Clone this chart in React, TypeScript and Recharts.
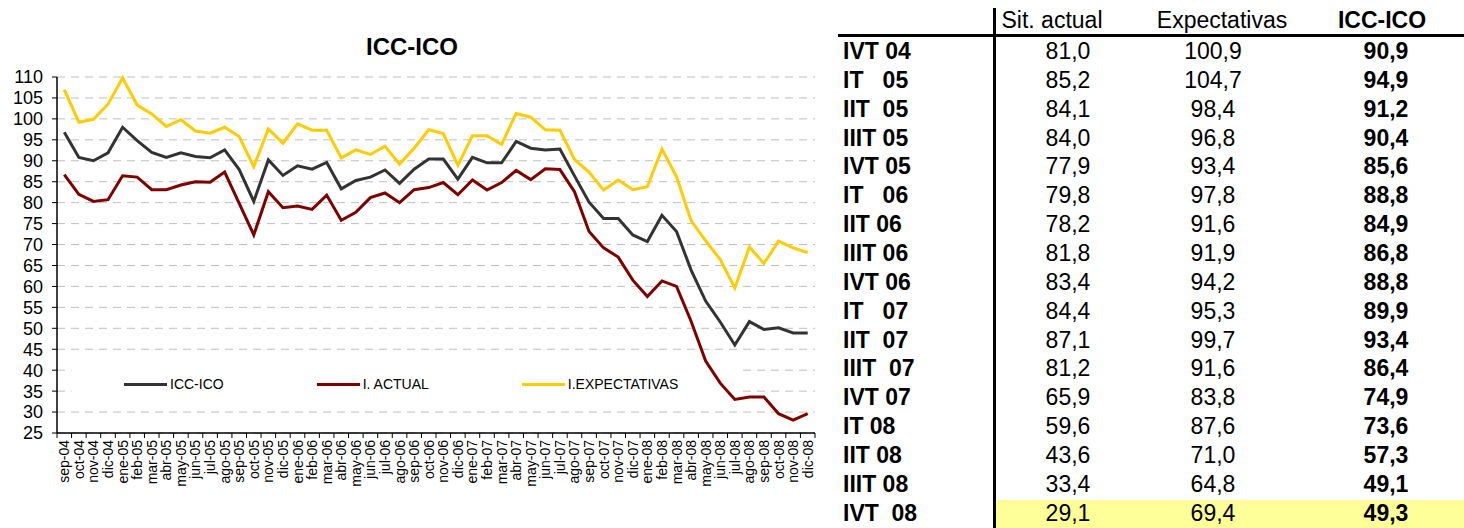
import React from "react"
import { LineChart, Line, XAxis, YAxis, CartesianGrid, Legend, ReferenceArea } from "recharts"

const months = [
  "sep-04", "oct-04", "nov-04", "dic-04",
  "ene-05", "feb-05", "mar-05", "abr-05", "may-05", "jun-05", "jul-05", "ago-05", "sep-05", "oct-05", "nov-05", "dic-05",
  "ene-06", "feb-06", "mar-06", "abr-06", "may-06", "jun-06", "jul-06", "ago-06", "sep-06", "oct-06", "nov-06", "dic-06",
  "ene-07", "feb-07", "mar-07", "abr-07", "may-07", "jun-07", "jul-07", "ago-07", "sep-07", "oct-07", "nov-07", "dic-07",
  "ene-08", "feb-08", "mar-08", "abr-08", "may-08", "jun-08", "jul-08", "ago-08", "sep-08", "oct-08", "nov-08", "dic-08",
]

const iccIco = [
  96.8, 90.8, 90.0, 91.9,
  98.0, 94.8, 92.0, 90.8, 91.9, 91.0, 90.7, 92.6, 87.9, 80.3, 90.2, 86.5,
  88.8, 88.0, 89.6, 83.3, 85.3, 86.1, 87.8, 84.6, 88.0, 90.4, 90.4, 85.6,
  90.8, 89.5, 89.5, 94.6, 93.0, 92.6, 92.8, 86.4, 80.1, 76.2, 76.2, 72.3,
  70.7, 77.0, 73.1, 63.9, 56.5, 51.5, 46.0, 51.6, 49.7, 50.1, 48.9, 48.9,
]

const actual = [
  86.7, 82.0, 80.3, 80.7,
  86.4, 86.1, 83.1, 83.1, 84.2, 85.0, 84.9, 87.3, 79.8, 72.3, 82.6, 78.8,
  79.2, 78.4, 81.8, 75.8, 77.7, 81.2, 82.3, 80.0, 83.1, 83.6, 84.8, 81.9,
  85.4, 83.0, 84.8, 87.7, 85.5, 88.1, 87.9, 82.6, 73.1, 69.2, 67.0, 61.5,
  57.6, 61.3, 60.0, 51.7, 42.2, 36.9, 33.0, 33.6, 33.6, 29.6, 28.1, 29.6,
]

const expectativas = [
  107.0, 99.2, 99.9, 103.5,
  109.8, 103.3, 101.2, 98.2, 99.8, 97.1, 96.6, 98.0, 95.8, 88.6, 97.6, 94.2,
  98.8, 97.3, 97.3, 90.7, 92.6, 91.5, 93.5, 89.2, 93.0, 97.4, 96.5, 88.9,
  96.0, 96.0, 93.9, 101.3, 100.4, 97.4, 97.3, 90.3, 87.3, 83.0, 85.4, 83.1,
  83.8, 92.8, 86.2, 75.7, 70.9, 66.4, 59.6, 69.4, 65.5, 70.8, 69.2, 68.1,
]

const yTicks = [25, 30, 35, 40, 45, 50, 55, 60, 65, 70, 75, 80, 85, 90, 95, 100, 105, 110]

const series = [
  { key: "icc", name: "ICC-ICO", color: "#333333" },
  { key: "actual", name: "I. ACTUAL", color: "#800000" },
  { key: "expect", name: "I.EXPECTATIVAS", color: "#FFCC00" },
]

// quarterly table
const quarters = [
  "IVT 04", "IT   05", "IIT  05", "IIIT 05", "IVT 05", "IT   06", "IIT 06", "IIIT 06", "IVT 06",
  "IT   07", "IIT  07", "IIIT  07", "IVT 07", "IT 08", "IIT 08", "IIIT 08", "IVT  08",
]
const qActual = [81.0, 85.2, 84.1, 84.0, 77.9, 79.8, 78.2, 81.8, 83.4, 84.4, 87.1, 81.2, 65.9, 59.6, 43.6, 33.4, 29.1]
const qExpect = [100.9, 104.7, 98.4, 96.8, 93.4, 97.8, 91.6, 91.9, 94.2, 95.3, 99.7, 91.6, 83.8, 87.6, 71.0, 64.8, 69.4]
const qIcc = [90.9, 94.9, 91.2, 90.4, 85.6, 88.8, 84.9, 86.8, 88.8, 89.9, 93.4, 86.4, 74.9, 73.6, 57.3, 49.1, 49.3]
const tableHeaders = ["Sit. actual", "Expectativas", "ICC-ICO"]

const data = months.map((m, i) => ({
  month: m,
  icc: iccIco[i],
  actual: actual[i],
  expect: expectativas[i],
}))

const fmt = (v: number) => v.toFixed(1).replace(".", ",")
const FONT = "'Liberation Sans', Arial, sans-serif"

const MonthTick = ({ x, y, payload, index }: any) => {
  const half = payload.offset ?? 0
  return (
    <g>
      <line x1={x - half} x2={x - half} y1={y - 7} y2={y - 2} stroke="#000" />
      {index === months.length - 1 && (
        <line x1={x + half} x2={x + half} y1={y - 7} y2={y - 2} stroke="#000" />
      )}
      <text
        x={x}
        y={y}
        transform={`rotate(-90 ${x} ${y})`}
        textAnchor="end"
        dominantBaseline="central"
        fontSize={14}
        fontFamily={FONT}
        fill="#000"
      >
        {payload.value}
      </text>
    </g>
  )
}

// legend box is drawn as a white ReferenceArea under the lines; this is only the items
const LegendItems = () => (
  <div
    style={{
      display: "flex",
      alignItems: "center",
      height: "100%",
      paddingLeft: 47,
      gap: 93,
      fontFamily: FONT,
      fontSize: 14,
      color: "#000",
    }}
  >
    {series.map((s) => (
      <div key={s.key} style={{ display: "flex", alignItems: "center" }}>
        <div style={{ width: 43, height: 3, background: s.color, marginRight: 3 }} />
        <span>{s.name}</span>
      </div>
    ))}
  </div>
)

const ROW0 = 51
const ROWH = 28.85
const colCenters = [1068, 1213, 1386]
const headCenters = [1052, 1222, 1382]

const App = () => {
  return (
    <div
      style={{
        position: "absolute",
        left: 0,
        top: 0,
        width: 1464,
        height: 528,
        background: "#fff",
        fontFamily: FONT,
        overflow: "hidden",
      }}
    >
      <div
        style={{
          position: "absolute",
          left: 312,
          top: 33,
          width: 200,
          textAlign: "center",
          fontWeight: "bold",
          fontSize: 24,
        }}
      >
        ICC-ICO
      </div>
      <div style={{ position: "absolute", left: 0, top: 0 }}>
        <LineChart width={830} height={528} data={data} margin={{ top: 77, right: 15, bottom: 0, left: 0 }}>
          <CartesianGrid vertical={false} stroke="#c0c0c0" strokeDasharray="8 6" />
          <XAxis
            dataKey="month"
            scale="band"
            interval={0}
            height={95}
            tickLine={false}
            tickSize={5}
            tickMargin={2}
            axisLine={{ stroke: "#000", strokeWidth: 1.5 }}
            tick={<MonthTick />}
          />
          <XAxis
            xAxisId="top"
            dataKey="month"
            scale="band"
            orientation="top"
            height={0}
            tick={false}
            tickLine={false}
            axisLine={{ stroke: "#808080" }}
          />
          <YAxis
            domain={[25, 110]}
            ticks={yTicks}
            interval={0}
            width={57}
            tickSize={5}
            tickMargin={9}
            tickLine={{ stroke: "#000" }}
            axisLine={{ stroke: "#000", strokeWidth: 1.5 }}
            tick={{ fontSize: 18, fill: "#000", fontFamily: FONT }}
          />
          <YAxis
            yAxisId="right"
            orientation="right"
            domain={[25, 110]}
            width={0}
            tick={false}
            tickLine={false}
            axisLine={{ stroke: "#808080" }}
          />
          <ReferenceArea
            x1="oct-04"
            x2="jul-08"
            y1={31.8}
            y2={43.6}
            fill="#fff"
            fillOpacity={1}
            stroke="none"
          />
          <Legend
            verticalAlign="middle"
            align="center"
            layout="horizontal"
            wrapperStyle={{ left: 77, top: 358, width: 660, height: 52 }}
            content={<LegendItems />}
          />
          {series.map((s) => (
            <Line
              key={s.key}
              dataKey={s.key}
              name={s.name}
              stroke={s.color}
              strokeWidth={3}
              dot={false}
              isAnimationActive={false}
            />
          ))}
        </LineChart>
      </div>

      {/* quarterly table */}
      <div style={{ position: "absolute", left: 996, top: ROW0 + 16 * ROWH - 13, width: 468, height: 40, background: "#FFFF99" }} />
      <div style={{ position: "absolute", left: 993, top: 8, width: 3, height: 520, background: "#000" }} />
      <div style={{ position: "absolute", left: 838, top: 34, width: 626, height: 3, background: "#000" }} />
      {tableHeaders.map((h, j) => (
        <div
          key={h}
          style={{
            position: "absolute",
            left: headCenters[j] - 100,
            width: 200,
            top: 8,
            textAlign: "center",
            fontSize: 23,
            lineHeight: "24px",
            fontWeight: j === 2 ? "bold" : "normal",
          }}
        >
          {h}
        </div>
      ))}
      {quarters.map((q, i) => {
        const top = ROW0 + i * ROWH - 11
        const vals = [qActual[i], qExpect[i], qIcc[i]]
        return (
          <React.Fragment key={q}>
            <div
              style={{
                position: "absolute",
                left: 843,
                top,
                fontSize: 23,
                lineHeight: "22px",
                fontWeight: "bold",
                whiteSpace: "pre",
              }}
            >
              {q}
            </div>
            {vals.map((v, j) => (
              <div
                key={j}
                style={{
                  position: "absolute",
                  left: colCenters[j] - 60,
                  width: 120,
                  top,
                  textAlign: "center",
                  fontSize: 23,
                  lineHeight: "22px",
                  fontWeight: j === 2 ? "bold" : "normal",
                }}
              >
                {fmt(v)}
              </div>
            ))}
          </React.Fragment>
        )
      })}
    </div>
  )
}

export default App
